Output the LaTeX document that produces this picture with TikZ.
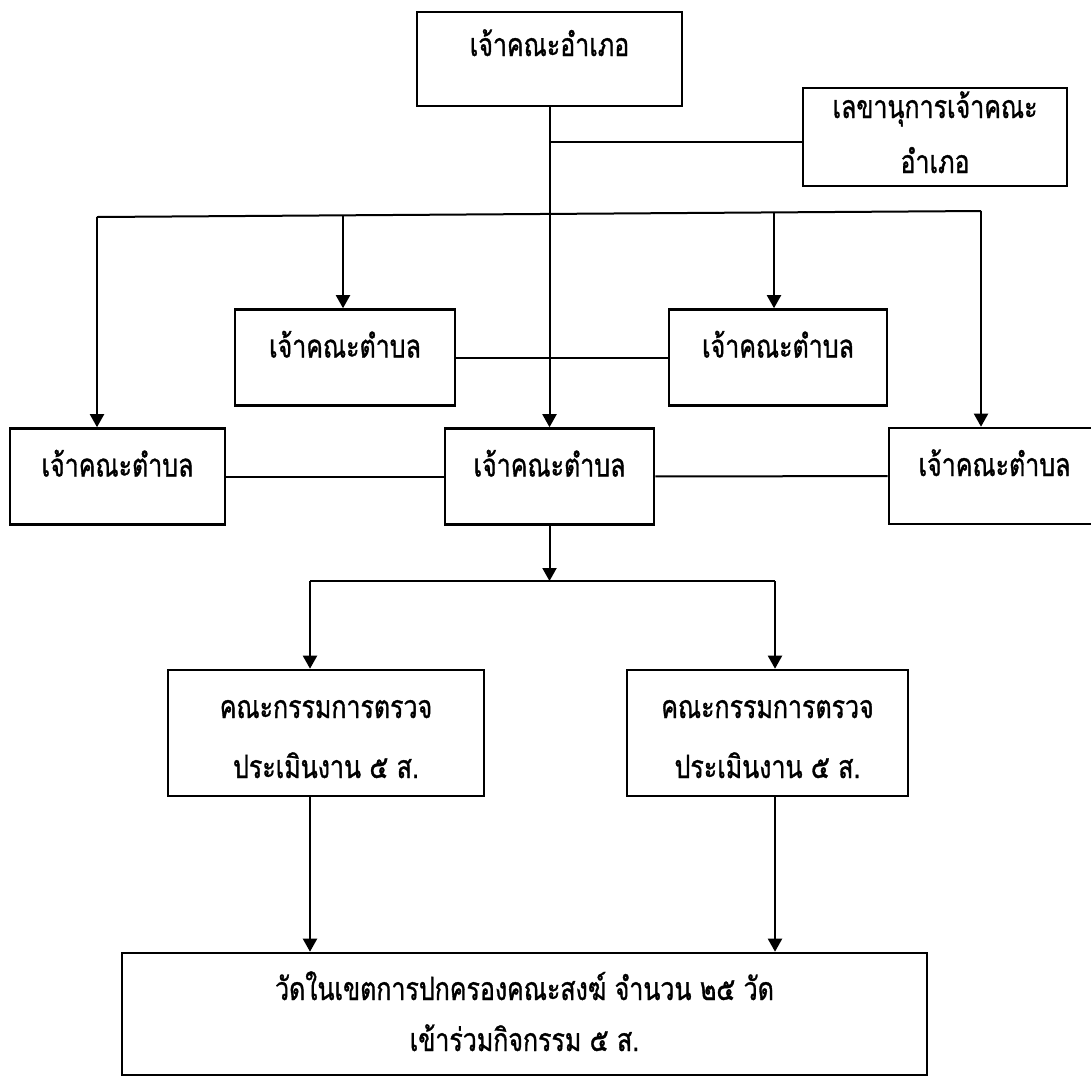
\documentclass[tikz,border=0pt]{standalone}
\usepackage{fontspec}
\newfontfamily\thaifont[Script=Thai,FakeStretch=0.78,FakeBold=1]{Loma}
\usetikzlibrary{arrows.meta}

\tikzstyle{post}=[draw,line width=1.3pt,rectangle,inner sep=0pt,align=center,font=\thaifont\fontsize{16}{18}\selectfont]
\tikzstyle{onebox}=[post,minimum height=48pt,text height=24pt,text depth=24pt]
\tikzstyle{link}=[draw,line width=1pt,-]
\tikzstyle{arrow}=[draw,line width=1pt,-{Triangle[length=6.5pt,width=7pt]}]

\begin{document}
\begin{tikzpicture}[x=0.5pt,y=-0.5pt]
    \useasboundingbox (0,0) rectangle (1091,1077);
    % First we draw the boxes of the district
    \node[onebox,minimum width=132.5pt,minimum height=47pt,text height=22pt,text depth=25pt] (amphoe) at (549.5,59) {เจ้าคณะอำเภอ};
    \node[post,minimum width=132pt,minimum height=49pt] (secretary) at (935,137) {\rule{0pt}{15pt}เลขานุการเจ้าคณะ\\[9.5pt]อำเภอ\rule[-6.5pt]{0pt}{6.5pt}};
    % Then the sub-district boxes
    \foreach \pos/\name/\w in {{(345,357.5)/tUL/110}, {(778,357.5)/tUR/109}, {(117.5,476.5)/tLL/107.5}, {(549.5,476.5)/tLM/104.5}, {(994.5,476)/tLR/105.5}}
        \node[onebox,minimum width=\w pt] (\name) at \pos {เจ้าคณะตำบล};
    % Committees and temples
    \node[post,minimum width=158pt,minimum height=63pt] (cmL) at (326,733) {\rule{0pt}{20pt}คณะกรรมการตรวจ\\[12pt]ประเมินงาน ๕ ส.\rule[-5pt]{0pt}{5pt}};
    \node[post,minimum width=140.5pt,minimum height=63pt] (cmR) at (767.5,733) {\rule{0pt}{20pt}คณะกรรมการตรวจ\\[12pt]ประเมินงาน ๕ ส.\rule[-5pt]{0pt}{5pt}};
    \node[post,minimum width=402.5pt,minimum height=61pt] (wat) at (524.5,1014) {\rule{0pt}{20pt}วัดในเขตการปกครองคณะสงฆ์ จำนวน ๒๕ วัด\\[7.5pt]เข้าร่วมกิจกรรม ๕ ส.\rule[-8.5pt]{0pt}{8.5pt}};

    % Connect the boxes
    \foreach \x/\y/\name in {97/217/busL, 343/215/dUL, 774/212/dUR, 981/211/busR, 310/581/busA, 775/581/busB}
        \coordinate (\name) at (\x,\y);
    \path[arrow] (amphoe) -- (tLM);
    \path[link] (amphoe.south |- 0,142) -- (secretary.west |- 0,142);
    \path[link] (busL) -- (busR);
    \foreach \source/\dest in {busL/tLL, dUL/tUL, dUR/tUR, busR/tLR}
        \path[arrow] (\source) -- (\source |- \dest.north);
    \foreach \source/\dest in {tUL/tUR, tLL/tLM, tLM/tLR}
        \path[link] (\source) -- (\dest);

    \path[arrow] (tLM) -- (tLM |- busA);
    \path[link] (busA) -- (busB);
    \path[arrow] (busA) -- (busA |- cmL.north);
    \path[arrow] (busB) -- (busB |- cmR.north);
    \path[arrow] (cmL.south -| busA) -- (wat.north -| busA);
    \path[arrow] (cmR.south -| busB) -- (wat.north -| busB);
\end{tikzpicture}
\end{document}
